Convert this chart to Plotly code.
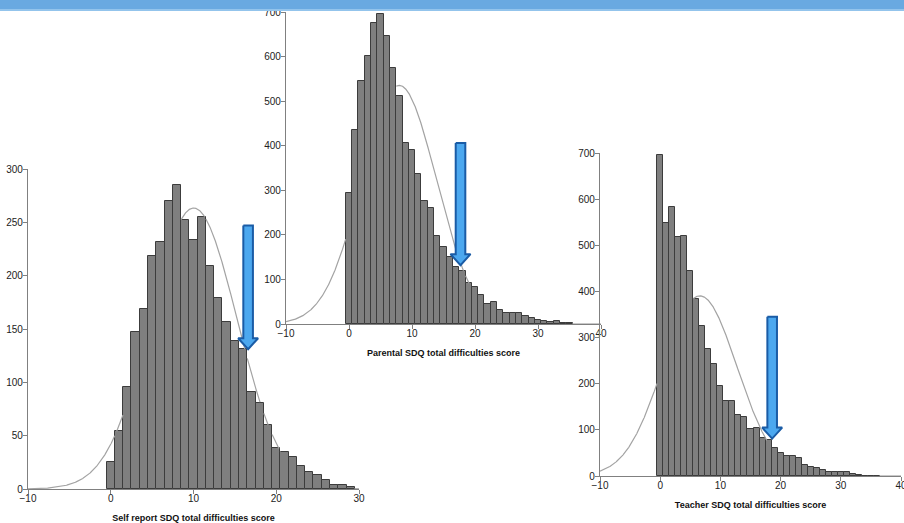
import math
import plotly.graph_objects as go

W, H = 904, 523

# ---------------- data (counts per integer score) ----------------
self_scores = list(range(0, 30))
self_counts = [25, 54, 96, 147, 169, 218, 232, 270, 285, 252, 233, 255, 209, 179, 157,
               139, 131, 91, 81, 60, 38, 35, 30, 22, 16, 13, 8, 4, 4, 2]

parent_scores = list(range(0, 36))
parent_counts = [295, 435, 546, 601, 676, 695, 646, 574, 512, 405, 390, 337, 276, 260, 197,
                 172, 151, 129, 119, 91, 84, 65, 46, 50, 31, 24, 24, 24, 18, 13,
                 9, 7, 5, 7, 3, 1.5]

teacher_scores = list(range(0, 37))
teacher_counts = [695, 548, 584, 518, 521, 445, 384, 325, 275, 242, 195, 163, 163, 132, 128,
                  101, 105, 82, 77, 61, 49, 44, 44, 38, 24, 20, 18, 13, 9, 8,
                  9, 8, 4, 2, 1, 1, 1]

titles = ["Self report SDQ total difficulties score",
          "Parental SDQ total difficulties score",
          "Teacher SDQ total difficulties score"]

x_ranges = [[-10, 30], [-10, 40], [-10, 40]]
y_ranges = [[0, 300], [0, 700], [0, 700]]
x_ticks = [[-10, 0, 10, 20, 30], [-10, 0, 10, 20, 30, 40], [-10, 0, 10, 20, 30, 40]]
y_dticks = [50, 100, 100]

# arrows: x position, top of shaft, tip (data units)
arrow_x = [16.6, 17.7, 18.6]
arrow_top = [247, 406, 345]
arrow_tip = [131, 132, 81]

# pixel boxes of the panels: (left, right, bottom, top)
boxes = [(28, 359, 489, 169), (286, 601, 324, 12), (600, 901, 476, 153)]

series = [(self_scores, self_counts), (parent_scores, parent_counts),
          (teacher_scores, teacher_counts)]

BAR_FILL = "#7f7f7f"
BAR_EDGE = "#3c3c3c"
CURVE = "#a3a3a3"
AXIS = "#808080"
ARROW_FILL = "#4ca8ef"
ARROW_EDGE = "#1a5ca6"
FONT = "Liberation Sans, Arial, sans-serif"

fig = go.Figure()

for i, ((xs, cs), box) in enumerate(zip(series, boxes)):
    sfx = "" if i == 0 else str(i + 1)
    xa, ya = "x" + sfx, "y" + sfx
    # histogram bars
    fig.add_trace(go.Bar(x=xs, y=cs, width=1, xaxis=xa, yaxis=ya,
                         marker=dict(color=BAR_FILL, line=dict(color=BAR_EDGE, width=1)),
                         showlegend=False, hoverinfo="x+y"))
    # normal curve fitted to the counts; parts lying behind a bar are hidden
    n = sum(cs)
    mean = sum(x * c for x, c in zip(xs, cs)) / n
    var = sum(c * (x - mean) ** 2 for x, c in zip(xs, cs)) / (n - 1)
    sd = math.sqrt(var)
    lo, hi = x_ranges[i]
    steps = 2000
    cx, cy = [], []
    lookup = dict(zip(xs, cs))
    for k in range(steps + 1):
        v = lo + (hi - lo) * k / steps
        val = n / (sd * math.sqrt(2 * math.pi)) * math.exp(-0.5 * ((v - mean) / sd) ** 2)
        b = math.floor(v + 0.5)
        cx.append(v)
        cy.append(None if (b in lookup and val < lookup[b]) else val)
    fig.add_trace(go.Scatter(x=cx, y=cy, mode="lines", xaxis=xa, yaxis=ya,
                             connectgaps=False,
                             line=dict(color=CURVE, width=1.2), showlegend=False,
                             hoverinfo="skip"))
    # arrow polygon (pixel sizes converted to data units)
    left, right, bottom, top = box
    px_x = (right - left) / (x_ranges[i][1] - x_ranges[i][0])
    px_y = (bottom - top) / (y_ranges[i][1] - y_ranges[i][0])
    sw = 4.8 / px_x
    hw = 10.0 / px_x
    hh = 11.0 / px_y
    ax_, at, ap = arrow_x[i], arrow_top[i], arrow_tip[i]
    px = [ax_ - sw, ax_ + sw, ax_ + sw, ax_ + hw, ax_, ax_ - hw, ax_ - sw, ax_ - sw]
    py = [at, at, ap + hh, ap + hh, ap, ap + hh, ap + hh, at]
    fig.add_trace(go.Scatter(x=px, y=py, mode="lines", fill="toself", xaxis=xa, yaxis=ya,
                             fillcolor=ARROW_FILL, line=dict(color=ARROW_EDGE, width=2),
                             showlegend=False, hoverinfo="skip"))

    axis_common = dict(showline=True, linecolor=AXIS, linewidth=1.3, ticks="outside",
                       ticklen=4, tickcolor=AXIS, tickwidth=1, showgrid=False, zeroline=False,
                       automargin=False, ticklabeloverflow="allow",
                       tickfont=dict(family=FONT, size=10, color="#222"))
    fig.layout["xaxis" + sfx] = dict(
        domain=[left / W, right / W], range=x_ranges[i], anchor=ya,
        tickvals=x_ticks[i], ticklabelstandoff=-4,
        title=dict(text="<b>" + titles[i] + "</b>", standoff=11,
                   font=dict(family=FONT, size=9, color="#111")),
        **axis_common)
    fig.layout["yaxis" + sfx] = dict(
        domain=[(H - bottom) / H, (H - top) / H], range=y_ranges[i], anchor=xa,
        dtick=y_dticks[i], tick0=0, ticklabelstandoff=-2, **axis_common)

# blue banner on top
fig.add_shape(type="rect", xref="paper", yref="paper", x0=0, x1=1,
              y0=1 - 11 / H, y1=1, fillcolor="#69a9e1", line=dict(width=0), layer="above")
fig.add_shape(type="rect", xref="paper", yref="paper", x0=0, x1=1,
              y0=1 - 11 / H, y1=1 - 9 / H, fillcolor="#93c4ec", line=dict(width=0), layer="above")

fig.update_layout(width=W, height=H, margin=dict(l=0, r=0, t=0, b=0),
                  paper_bgcolor="white", plot_bgcolor="rgba(0,0,0,0)",
                  bargap=0, barmode="overlay")

fig.write_html("out.html", config={"displayModeBar": False},
               post_script="document.body.style.margin='0';document.body.style.overflow='hidden';")
